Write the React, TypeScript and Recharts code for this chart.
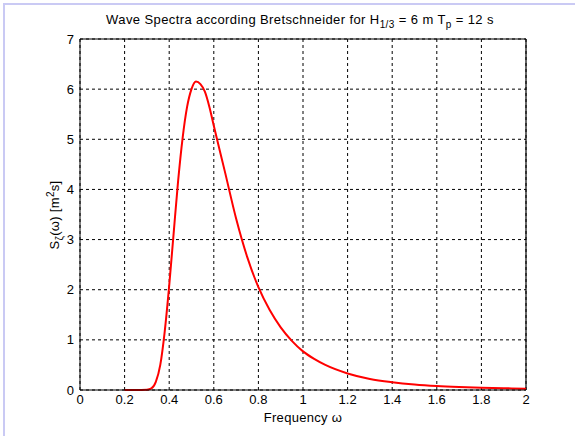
import React from 'react';
import { LineChart, Line, XAxis, YAxis, CartesianGrid, ReferenceLine } from 'recharts';

const OMEGA = [0.2, 0.25, 0.3, 0.32, 0.34, 0.36, 0.38, 0.4, 0.42, 0.44, 0.46, 0.48, 0.5, 0.52, 0.54, 0.56, 0.58, 0.6, 0.65, 0.7, 0.75, 0.8, 0.85, 0.9, 0.95, 1.0, 1.05, 1.1, 1.2, 1.3, 1.4, 1.5, 1.6, 1.7, 1.8, 1.9, 2.0];
const SPECTRUM = [0, 0, 0.005, 0.03, 0.16, 0.5, 1.17, 2.08, 3.13, 4.17, 5.02, 5.64, 6.0, 6.15, 6.1, 5.95, 5.65, 5.27, 4.35, 3.42, 2.65, 2.05, 1.6, 1.25, 0.98, 0.77, 0.62, 0.5, 0.33, 0.22, 0.155, 0.11, 0.08, 0.06, 0.045, 0.035, 0.027];
const X_TICKS = [0, 0.2, 0.4, 0.6, 0.8, 1, 1.2, 1.4, 1.6, 1.8, 2];
const X_TICK_LABELS = ['0', '0.2', '0.4', '0.6', '0.8', '1', '1.2', '1.4', '1.6', '1.8', '2'];
const Y_TICKS = [0, 1, 2, 3, 4, 5, 6, 7];
const Y_TICK_LABELS = ['0', '1', '2', '3', '4', '5', '6', '7'];

const data = OMEGA.map((w, i) => ({ w, s: SPECTRUM[i] }));

const font = 'Arial, "Liberation Sans", Helvetica, sans-serif';

export default function App() {
  return (
    <div style={{ position: 'absolute', left: 0, top: 0, width: 575, height: 436, background: '#fff', fontFamily: font, overflow: 'hidden' }}>
      <div style={{ position: 'absolute', left: 3, top: 3, width: 580, height: 440, borderLeft: '2px solid #cacaf4', borderTop: '2px solid #cacaf4' }} />
      <div style={{ position: 'absolute', left: 0, top: 0 }}>
        <LineChart width={575} height={436} data={data} margin={{ top: 39, right: 49, left: 0, bottom: 0 }}>
          <CartesianGrid stroke="#000" strokeDasharray="3 3" strokeWidth={1} />
          <XAxis
            dataKey="w"
            type="number"
            domain={[0, 2]}
            ticks={X_TICKS}
            tickFormatter={(v: number) => X_TICK_LABELS[X_TICKS.indexOf(v)] ?? String(v)}
            height={46}
            tickLine={false}
            tickSize={0}
            tickMargin={5}
            axisLine={{ stroke: '#000' }}
            tick={{ fill: '#000', fontSize: 13, fontFamily: font }}
            interval={0}
          />
          <YAxis
            type="number"
            domain={[0, 7]}
            ticks={Y_TICKS}
            tickFormatter={(v: number) => Y_TICK_LABELS[Y_TICKS.indexOf(v)] ?? String(v)}
            width={80}
            tickLine={false}
            tickSize={0}
            tickMargin={6}
            axisLine={{ stroke: '#000' }}
            tick={{ fill: '#000', fontSize: 13, fontFamily: font }}
            interval={0}
          />
          <ReferenceLine x={2} stroke="#000" strokeWidth={1.2} ifOverflow="visible" />
          <ReferenceLine y={7} stroke="#000" strokeWidth={1.2} ifOverflow="visible" />
          <Line type="monotone" dataKey="s" stroke="#ff0000" strokeWidth={2} dot={false} isAnimationActive={false} />
        </LineChart>
      </div>
      <div style={{ position: 'absolute', left: 0, width: 600, top: 13, textAlign: 'center', fontSize: 13, letterSpacing: 0.4, color: '#000', whiteSpace: 'nowrap', lineHeight: '14px' }}>
        Wave Spectra according Bretschneider for H<sub style={{ fontSize: 10, verticalAlign: '-4px', lineHeight: 0 }}>1/3</sub> = 6 m T<sub style={{ fontSize: 10, verticalAlign: '-4px', lineHeight: 0 }}>p</sub> = 12 s
      </div>
      <div style={{ position: 'absolute', left: 0, width: 606, top: 411, textAlign: 'center', fontSize: 13, letterSpacing: 0.3, color: '#000', whiteSpace: 'nowrap', lineHeight: '14px' }}>
        Frequency ω
      </div>
      <div style={{ position: 'absolute', left: 55, top: 215, width: 0, height: 0 }}>
        <div style={{ position: 'absolute', left: -100, top: -7, width: 200, textAlign: 'center', transform: 'rotate(-90deg)', fontSize: 13, letterSpacing: 0.3, color: '#000', whiteSpace: 'nowrap', lineHeight: '14px' }}>
          S<sub style={{ fontSize: 10, verticalAlign: '-4px', lineHeight: 0 }}>ζ</sub>(ω) [m<sup style={{ fontSize: 10, verticalAlign: '5px', lineHeight: 0 }}>2</sup>s]
        </div>
      </div>
    </div>
  );
}
